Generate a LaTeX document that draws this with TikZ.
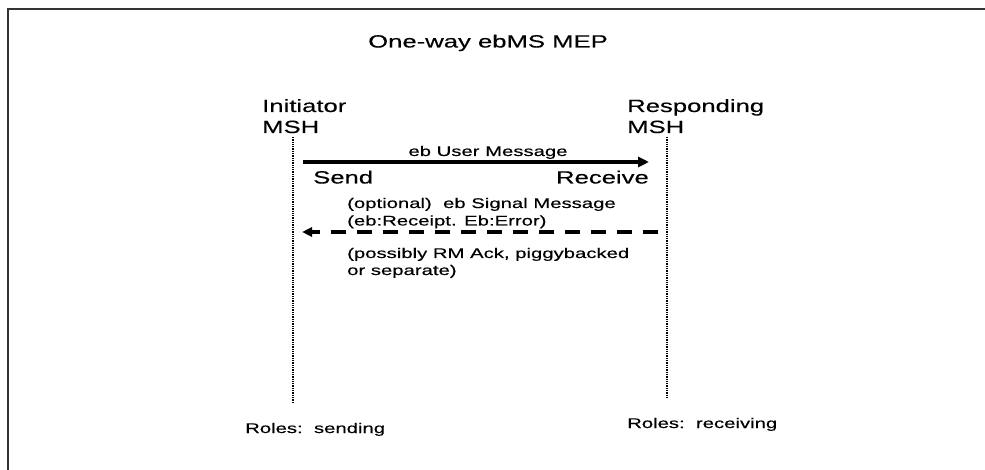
\documentclass[tikz,border=0pt]{standalone}
\usepackage{fontspec}
\setmainfont{Liberation Sans}[FakeStretch=1.45,FakeBold=0.3]
\usetikzlibrary{arrows.meta}
\begin{document}
\begin{tikzpicture}[x=1pt,y=-1pt,
  big/.style={font=\fontsize{17.7}{21}\selectfont, inner sep=0pt},
  small/.style={font=\fontsize{14}{17.4}\selectfont, inner sep=0pt},
  lifeline/.style={line width=2.8pt, dash pattern=on 1.3pt off 1pt},
  msg/.style={line width=3.2pt, -{Triangle[length=11pt,width=10pt]}},
  reply/.style={line width=3.2pt, dash pattern=on 15pt off 11pt,
                -{Triangle[length=10pt,width=9pt]}}]
\useasboundingbox (0,0) rectangle (985,470);

% outer frame (top and left edges)
\draw[line width=1.5pt, black!80] (8,470) -- (8,9) -- (985,9);

% title
\node[big, anchor=base] (title) at (488,47.5) {One-way ebMS MEP};

% participants
\node[big, anchor=base west] (initA) at (262,112) {Initiator};
\node[big, anchor=base west] (initB) at (262,133) {MSH};
\node[big, anchor=base west] (respA) at (627,112) {Responding};
\node[big, anchor=base west] (respB) at (627,133) {MSH};

% lifelines
\coordinate (initTop) at (293,137);
\coordinate (initBot) at (293,402);
\coordinate (respTop) at (667,137);
\coordinate (respBot) at (667,397);
\draw[lifeline] (initTop) -- (initBot);
\draw[lifeline] (respTop) -- (respBot);

% user message
\coordinate (userFrom) at (303,162);
\coordinate (userTo) at (649,162);
\draw[msg] (userFrom) -- (userTo);
\node[small, anchor=base] (userLbl) at (488,156) {eb User Message};
\node[big, anchor=base west] (sendLbl) at (313,183.5) {Send};
\node[big, anchor=base east] (recvLbl) at (649,183.5) {Receive};

% signal message
\node[small, anchor=base west] (sigA) at (347,208) {(optional)\ \ eb Signal Message};
\node[small, anchor=base west] (sigB) at (347,225.5) {(eb:Receipt. Eb:Error)};
\coordinate (sigFrom) at (658,232);
\coordinate (sigTo) at (302,232);
\draw[reply] (sigFrom) -- (sigTo);
\node[small, anchor=base west] (ackA) at (347,258) {(possibly RM Ack, piggybacked};
\node[small, anchor=base west] (ackB) at (347,275) {or separate)};

% roles
\node[small, anchor=base west] (roleInit) at (245,433) {Roles:\ \ sending};
\node[small, anchor=base west] (roleResp) at (627,428) {Roles:\ \ receiving};
\end{tikzpicture}
\end{document}
